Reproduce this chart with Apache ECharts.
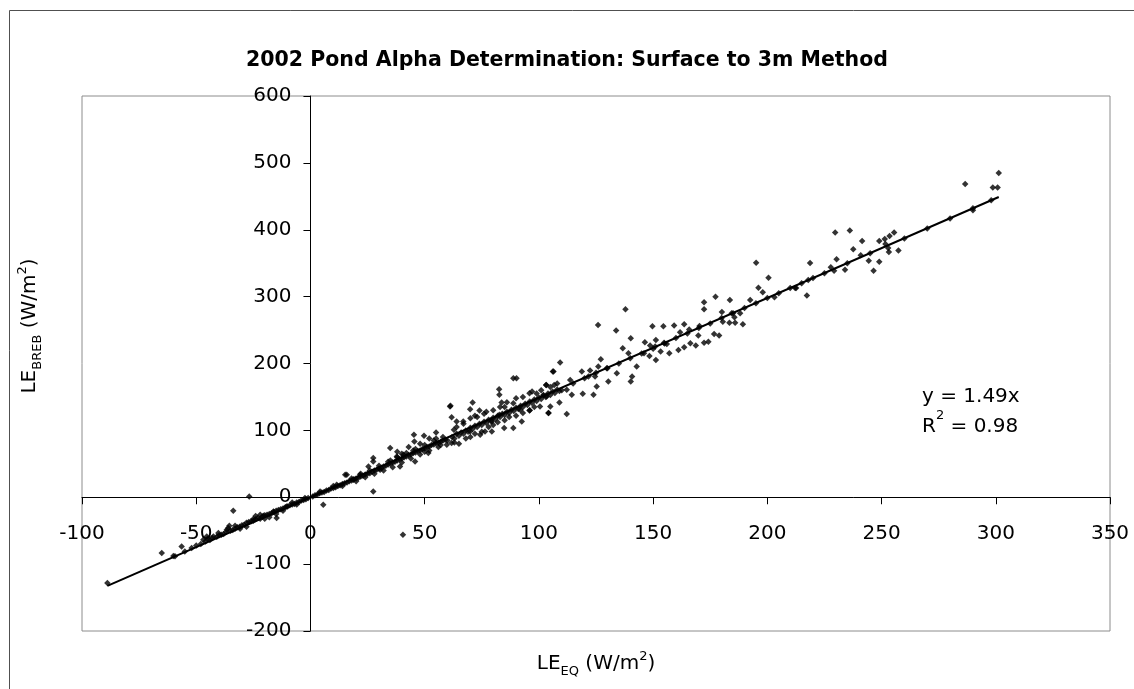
<!DOCTYPE html>
<html>
<head>
<meta charset="utf-8">
<script src="https://cdn.jsdelivr.net/npm/echarts@6/dist/echarts.min.js"></script>
<style>html,body{margin:0;padding:0;background:#fff}#c{width:1134px;height:689px}</style>
</head>
<body>
<div id="c"></div>
<script>
const titleText = '2002 Pond Alpha Determination: Surface to 3m Method';
const xTicks = {min: -100, max: 350, interval: 50};
const yTicks = {min: -200, max: 600, interval: 100};
const fitSlope = 1.49;
const fitR2 = 0.98;

// [LE_EQ, LE_BREB] points (W/m2)
const negPoints = [
 [-88.9,-128.2],[-65.1,-83.4],[-59.3,-88.4],[-56.4,-73.5],[-33.8,-20.2],[-26.8,1.2],[-35.5,-42.6],[-33,-42.6],
 [-30.8,-47],[-36.6,-48.6],[-40.3,-53.5],[-42.5,-58.6],[-45.4,-58.6],[-46.9,-63.5],[-25,-32.6],[-20.6,-27.6],
 [-14.8,-31.1],[-16.2,-21.2],[-10.4,-13.7],[-2.4,-1.2],
 [-60,-88],[-55,-81],[-52,-76],[-50,-72],[-48,-70],[-46,-66],[-44,-64],[-43,-61],[-41,-59],[-39,-56],[-38,-55],
 [-37,-52],[-35,-50],[-34,-49],[-33,-47],[-32,-45],[-31,-44],[-30,-42],[-29,-41],[-28,-38],[-27,-37],[-26,-36],
 [-25,-35],[-24,-33],[-23,-31],[-22,-32],[-21,-29],[-20,-27],[-19,-26],[-18,-25],[-17,-24],[-16,-22],[-15,-20],
 [-14,-19],[-13,-18],[-12,-17],[-11,-15],[-10,-14],[-9,-12],[-8,-11],[-7,-10],[-6,-8],[-5,-7],[-4,-5],[-3,-4],
 [-2,-3],[-1,-1],[-28,-44],[-22,-26],[-18,-30],[-12,-20],[-8,-8],[-36,-46],[-24,-28],[-20,-32],[-6,-11],
 [-15,-25],[-45,-62],[-40,-57]
];
const lowPoints = [
 [5.6,-11.2],[27.5,8.7],[15.9,33.6],[27.5,53.5],[27.5,58.6],[34.9,73.5],[45.3,93.4],[45.5,83.4],[49.7,91.9],
 [55,96.8],[40.7,63.5],[37.8,61],[39.2,46],[45.8,53.5],[30.5,41],[25.4,46],[21.7,33.6],[18.8,26],[11.5,18.7],
 [4.2,8.7],[15.2,33.6],[40.5,-56],
 [1,1],[2,3],[3,4],[4,6],[5,7],[6,8],[7,10],[8,11],[9,13],[10,14],[11,15],[12,17],[13,18],[14,20],[15,21],
 [16,22],[17,24],[18,25],[19,27],[20,28],[21,29],[22,31],[23,32],[24,34],[25,35],[26,36],[27,38],[28,40],
 [29,41],[30,43],[31,44],[32,46],[33,47],[34,49],[35,50],[36,52],[37,53],[38,55],[39,57],[40,58],[41,60],
 [42,61],[43,63],[44,64],[45,66],[46,67],[47,69],[48,70],[49,72],[50,73],[51,75],[52,76],[53,78],[54,79],
 [55,81],[56,82],[57,83],[58,85],[59,86],
 [10,17],[14,17],[18,28],[20,24],[22,35],[24,30],[26,40],[28,35],[30,47],[32,40],[34,53],[36,45],[38,60],
 [40,52],[42,66],[44,58],[46,72],[48,64],[50,78],[52,70],[54,85],[56,75],[58,90],[35,55],[40,65],[45,70],
 [50,68],[55,88],[43,75],[38,68],[48,80],[52,88],[57,78]
];
const midPoints = [
 [88.8,178],[90.2,178],[95.9,155.6],[82.6,161.6],[82.7,153.1],[83.7,141.6],[71,141.6],[69.9,131.7],[74,129.7],
 [72,121.7],[61.1,135.6],[61.3,137],[61.8,119.8],[64,113.2],[66.9,113.2],[62.8,100.8],[88.8,140.6],[91.8,130.7],
 [88.8,103.4],[84.8,103.4],[92.5,113.2],[95.9,129.7],[100.5,135.6],[82.7,123.2],[79.4,113.2],[79.4,98.3],
 [76.4,98.3],[74.3,93.4],[69.9,98.3],[61.8,81],[59.7,78.4],[51.6,66],[106.4,188],[103.2,168],[103.4,150.6],
 [104.2,125.8],
 [60,85],[62,90],[63,88],[64,95],[65,92],[66,97],[67,95],[68,100],[69,98],[70,104],[71,102],[72,107],[73,105],
 [74,110],[75,108],[76,113],[77,111],[78,116],[79,114],[80,119],[81,117],[82,122],[83,120],[84,125],[85,123],
 [86,128],[87,126],[88,131],[89,129],[90,134],[91,132],[92,137],[93,135],[94,140],[95,138],[96,143],[97,141],
 [98,146],[99,144],[100,149],[101,147],[102,152],[103,150],[104,155],[105,153],[106,158],[107,156],[108,161],
 [109,159],
 [63,82],[65,80],[68,88],[70,90],[72,95],[75,98],[78,105],[80,108],[82,112],[85,115],[87,120],[90,122],[93,126],
 [96,130],[98,135],[67,110],[70,118],[73,120],[76,125],[80,130],[83,135],[86,142],[90,148],[93,150],[97,158],
 [101,160],[105,165],[108,170],[64,105],[77,128],[85,135],[99,155]
];
const highPoints = [
 [195.1,350.8],[200.5,328.4],[196.1,313.4],[198,306.5],[203.1,299],[212.2,313],[192.5,295],[183.6,295],[177.3,300],
 [172.3,291.6],[172.3,281],[180.1,277],[184.4,275],[188.1,275],[185.6,269],[180.5,262.6],[183.4,261],[185.9,261],
 [189.3,258.7],[170.3,256],[165.8,251],[163.6,258.7],[161.8,246.8],[159.2,257],[154.5,255.7],[149.7,255.7],
 [169.8,241.7],[176.7,244.2],[178.9,241.7],[174.2,232.7],[172.3,231.2],[168.7,226.8],[166.3,230.3],[163.6,224.4],
 [161.1,220.3],[157.1,215.4],[156,229.3],[154.8,231.2],[153.3,217.8],[151.2,235.3],[150.9,225.3],[148.7,226.8],
 [146.4,231.8],[148.4,211.4],[151.2,205.4],[146,215.4],[137.9,281.1],[140.2,237.8],[136.7,222.9],[139.2,215.4],
 [142.8,195.4],[140.8,180.5],[140.2,173],[133.8,249.2],[125.9,257.7],[127.1,206.4],[134.1,185.5],[130.4,173],
 [129.7,193],[126,195.4],[124.6,180.5],[122.4,189.4],[121.7,180.5],[118.8,188],[119.2,154.6],[123.9,153.1],
 [125.3,165.5],[109.3,201.4],[106.1,188],[103.2,168],[106.7,168],[113.7,175.5],[112.2,160.6],[114.4,153.1],
 [109,141.6],[104.2,125.8],[112.2,124.3],[105,135.6],[102,153],
 [286.6,468.3],[298.7,463],[300.8,463],[301.3,485],[290,429],[229.7,396],[236.1,399],[241.5,383],[237.6,371],
 [249,383],[251.4,386],[253.5,390.6],[255.5,396],[251.7,378.7],[252.9,372.7],[253.2,366.7],[257.4,369],
 [240.9,361.8],[244.4,353.8],[249,352.3],[246.5,338.8],[230.3,355.8],[227.8,343.9],[229.2,338.8],[234,340.3],
 [218.7,350.3],[217.3,301.5],[217.9,325],[212.6,313],
 [110,160],[115,170],[120,178],[125,186],[130,193],[135,200],[140,208],[145,215],[150,222],[155,230],[160,238],
 [165,245],[170,253],[175,260],[180,268],[185,275],[190,283],[195,290],[200,298],[205,305],[210,313],[215,320],
 [220,328],[225,335],[235,350],[245,365],[260,387],[270,402],[280,417],[290,432],[298,444]
];

const allPoints = negPoints.concat(lowPoints, midPoints, highPoints);
const xsAll = allPoints.map(p => p[0]);
const fitX0 = Math.min.apply(null, xsAll), fitX1 = Math.max.apply(null, xsAll);
const fitLine = [[fitX0, fitSlope * fitX0], [fitX1, fitSlope * fitX1]];

const W = 1134, H = 689;
const G = {left: 82, top: 96, right: 24, bottom: 58};
const gridW = W - G.left - G.right, gridH = H - G.top - G.bottom;
// place the axes (line + ticks + labels) at the zero of the other axis
const xAxisOffset = -(0 - yTicks.min) / (yTicks.max - yTicks.min) * gridH;
const yAxisOffset = -(0 - xTicks.min) / (xTicks.max - xTicks.min) * gridW;

const FONT = 'DejaVu Sans';
const chart = echarts.init(document.getElementById('c'), null, {renderer: 'canvas'});
chart.setOption({
  backgroundColor: '#fff',
  animation: false,
  title: {
    text: titleText, left: 'center', top: 45,
    textStyle: {fontFamily: FONT, fontSize: 20.5, fontWeight: 'bold', color: '#000'}
  },
  grid: Object.assign({show: true, borderColor: '#8c8c8c', borderWidth: 1, containLabel: false}, G),
  xAxis: {
    type: 'value', min: xTicks.min, max: xTicks.max, interval: xTicks.interval,
    position: 'bottom', offset: xAxisOffset,
    axisLine: {show: true, onZero: false, lineStyle: {color: '#000', width: 1}},
    axisTick: {show: true, length: 7, lineStyle: {color: '#000'}},
    axisLabel: {fontFamily: FONT, fontSize: 20, color: '#000', margin: 27, showMinLabel: true, showMaxLabel: true},
    splitLine: {show: false}
  },
  yAxis: {
    type: 'value', min: yTicks.min, max: yTicks.max, interval: yTicks.interval,
    position: 'left', offset: yAxisOffset,
    axisLine: {show: true, onZero: false, lineStyle: {color: '#000', width: 1}},
    axisTick: {show: true, length: 7, lineStyle: {color: '#000'}},
    axisLabel: {fontFamily: FONT, fontSize: 20, color: '#000', margin: 19, showMinLabel: true, showMaxLabel: true},
    splitLine: {show: false}
  },
  series: [
    {type: 'scatter', data: allPoints, symbol: 'diamond', symbolSize: 6.5, itemStyle: {color: '#000'}, z: 3},
    {type: 'line', data: fitLine, showSymbol: false, symbol: 'none', lineStyle: {color: '#000', width: 2}, z: 4}
  ],
  graphic: [
    {type: 'rect', z: -10, silent: true, shape: {x: 9.5, y: 10.5, width: 1300, height: 900}, style: {fill: null, stroke: '#505050', lineWidth: 1}},
    {type: 'text', left: 922, top: 387, style: {text: 'y = ' + fitSlope + 'x', fontFamily: FONT, fontSize: 20, fill: '#000'}},
    {type: 'text', left: 922, top: 409, style: {
      text: '{a|R}{s|2}{a| = ' + fitR2 + '}',
      rich: {a: {fontFamily: FONT, fontSize: 20, lineHeight: 28, fill: '#000', verticalAlign: 'bottom'},
             s: {fontFamily: FONT, fontSize: 13, lineHeight: 13, fill: '#000', verticalAlign: 'top'}}
    }},
    {type: 'text', x: 596, y: 664, style: {
      text: '{a|LE}{b|EQ}{a| (W/m}{s|2}{a|)}', align: 'center', verticalAlign: 'middle',
      rich: {a: {fontFamily: FONT, fontSize: 20, lineHeight: 28, fill: '#000', verticalAlign: 'middle'},
             b: {fontFamily: FONT, fontSize: 13, lineHeight: 13, fill: '#000', verticalAlign: 'bottom'},
             s: {fontFamily: FONT, fontSize: 13, lineHeight: 13, fill: '#000', verticalAlign: 'top'}}
    }},
    {type: 'text', x: 30, y: 326, rotation: Math.PI / 2, style: {
      text: '{a|LE}{b|BREB}{a| (W/m}{s|2}{a|)}', align: 'center', verticalAlign: 'middle',
      rich: {a: {fontFamily: FONT, fontSize: 20, lineHeight: 28, fill: '#000', verticalAlign: 'middle'},
             b: {fontFamily: FONT, fontSize: 13, lineHeight: 13, fill: '#000', verticalAlign: 'bottom'},
             s: {fontFamily: FONT, fontSize: 13, lineHeight: 13, fill: '#000', verticalAlign: 'top'}}
    }}
  ]
});
</script>
</body>
</html>
